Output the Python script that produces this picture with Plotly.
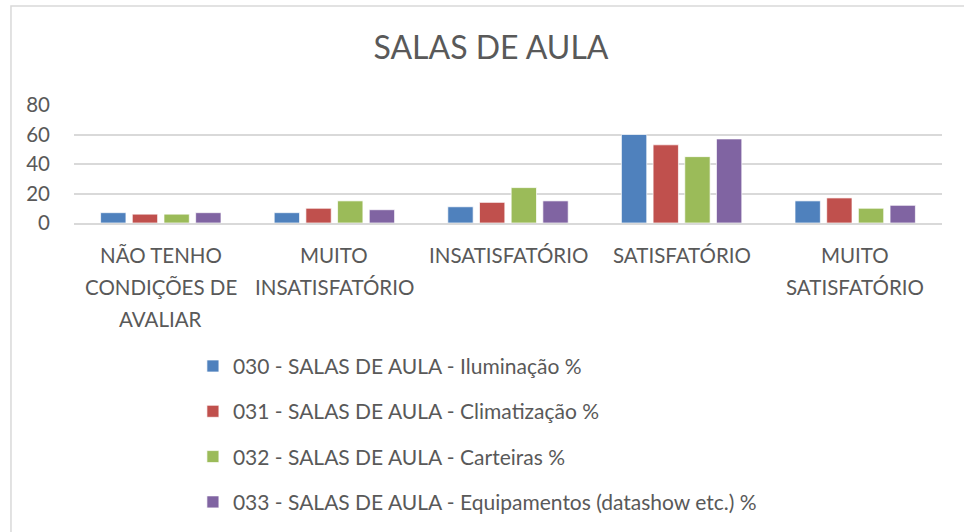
import plotly.graph_objects as go

categories = ["NÃO TENHO CONDIÇÕES DE AVALIAR", "MUITO INSATISFATÓRIO",
              "INSATISFATÓRIO", "SATISFATÓRIO", "MUITO SATISFATÓRIO"]
tick_lines = [["NÃO TENHO", "CONDIÇÕES DE", "AVALIAR"],
              ["MUITO", "INSATISFATÓRIO"],
              ["INSATISFATÓRIO"],
              ["SATISFATÓRIO"],
              ["MUITO", "SATISFATÓRIO"]]
series_names = ["030 - SALAS DE AULA - Iluminação %",
                "031 - SALAS DE AULA - Climatização %",
                "032 - SALAS DE AULA - Carteiras %",
                "033 - SALAS DE AULA - Equipamentos (datashow etc.) %"]
iluminacao = [7, 7, 11, 60, 15]
climatizacao = [6, 10, 14, 53, 17]
carteiras = [6, 15, 24, 45, 10]
equipamentos = [7, 9, 15, 57, 12]
series_values = [iluminacao, climatizacao, carteiras, equipamentos]
colors = ["#4F81BD", "#C0504D", "#9BBB59", "#8064A2"]
y_ticks = [0, 20, 40, 60, 80]

FONT = "Lato, Carlito, Calibri, sans-serif"
GREY = "#595959"

fig = go.Figure()
for name, vals, col in zip(series_names, series_values, colors):
    fig.add_trace(go.Bar(
        x=categories, y=vals, name=name, legendgroup=name,
        marker=dict(color=col, line=dict(color="rgba(255,255,255,0.7)", width=1)),
    ))

annotations = []
for cat, lines in zip(categories, tick_lines):
    for i, line in enumerate(lines):
        annotations.append(dict(
            x=cat, xref="x", y=0, yref="paper", yanchor="middle",
            yshift=-32 - 32 * i, text=line, showarrow=False,
            font=dict(family=FONT, size=20.5, color=GREY)))

fig.update_layout(
    width=964, height=532,
    margin=dict(l=74, r=22, t=105, b=309, autoexpand=False),
    paper_bgcolor="white", plot_bgcolor="white",
    title=dict(text="SALAS DE AULA", x=491 / 964, xanchor="center",
               y=1 - 48 / 532, yanchor="middle", xref="container",
               font=dict(family=FONT, size=32, color=GREY)),
    barmode="group", bargap=0.27, bargroupgap=0.2,
    font=dict(family=FONT, color=GREY),
    xaxis=dict(showticklabels=False, showgrid=False, showline=True,
               linecolor="#d9d9d9", linewidth=1.5, ticks="", automargin=False),
    yaxis=dict(range=[0, 80], tickvals=y_ticks, showgrid=True,
               gridcolor="#d9d9d9", gridwidth=1.5, zeroline=False,
               tickfont=dict(family=FONT, size=20.5, color=GREY),
               ticklen=0, ticks="", showline=False, automargin=False,
               ticklabelstandoff=23),
    legend=dict(x=0.137, xanchor="left", y=-1.041, yanchor="top",
                font=dict(family=FONT, size=21, color=GREY),
                tracegroupgap=15, itemwidth=30, bgcolor="rgba(0,0,0,0)"),
    annotations=annotations,
    shapes=[dict(type="rect", xref="paper", yref="paper",
                 x0=-0.0726, x1=1.044, y0=-2.73, y1=1.839,
                 line=dict(color="#d9d9d9", width=1.5))],
)

fig.write_html("out.html", config={"displayModeBar": False},
               post_script="document.body.style.margin='0';document.body.style.padding='0';")
